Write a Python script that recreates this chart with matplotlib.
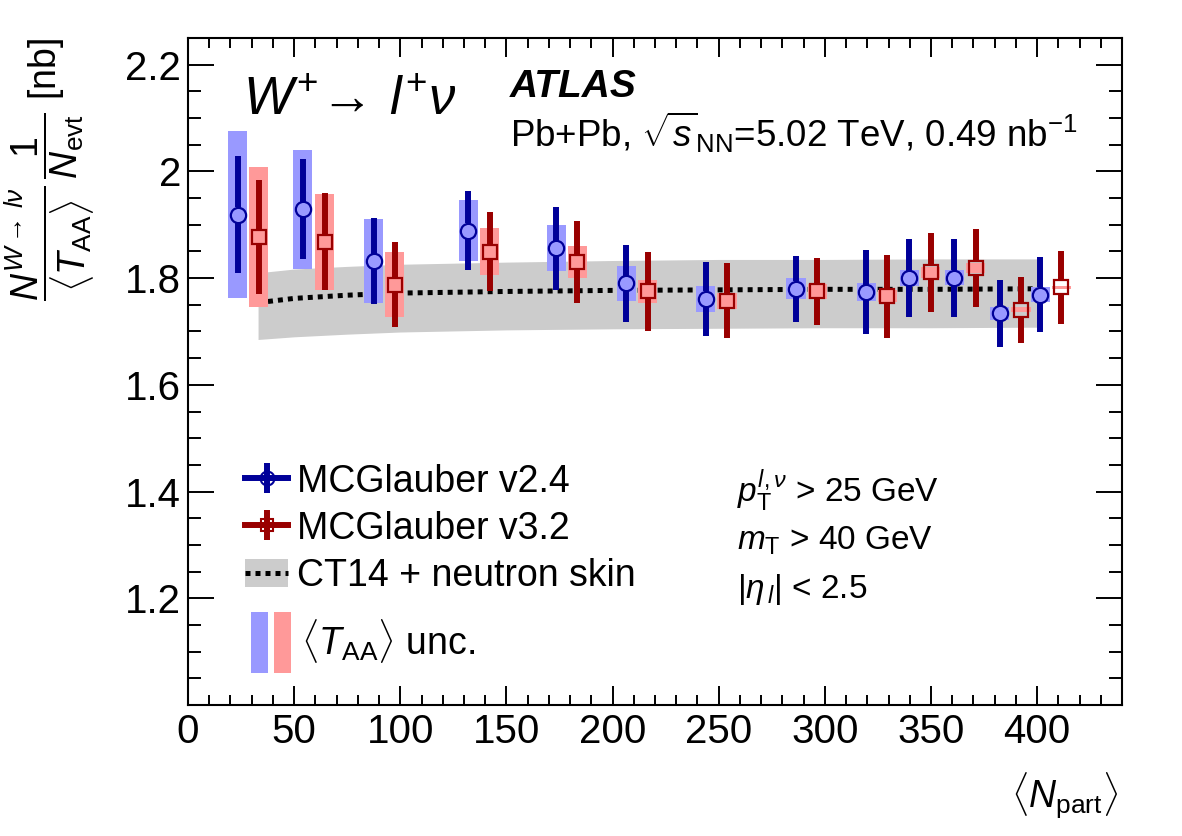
import matplotlib
matplotlib.use('Agg')
import matplotlib.pyplot as plt
import numpy as np
from matplotlib.lines import Line2D
from matplotlib.patches import Patch
from matplotlib.legend_handler import HandlerTuple
from matplotlib.ticker import MultipleLocator, FuncFormatter

plt.rcParams['font.family'] = ['Liberation Sans', 'DejaVu Sans']
plt.rcParams['mathtext.fontset'] = 'custom'
plt.rcParams['mathtext.rm'] = 'Liberation Sans'
plt.rcParams['mathtext.it'] = 'Liberation Sans:italic'
plt.rcParams['mathtext.bf'] = 'Liberation Sans:bold'

# MCGlauber v2.4
npart_v24 = np.array([23.4, 54.1, 87.5, 132.1, 173.5, 206.4, 243.8, 286.4, 319.5, 339.8, 360.9, 382.4, 401.4])
yield_v24 = np.array([1.919, 1.929, 1.832, 1.889, 1.856, 1.790, 1.761, 1.780, 1.774, 1.800, 1.801, 1.734, 1.769])
stat_v24 = np.array([0.110, 0.094, 0.080, 0.074, 0.078, 0.073, 0.070, 0.062, 0.079, 0.073, 0.073, 0.063, 0.070])
taa_v24 = np.array([0.156, 0.111, 0.079, 0.057, 0.043, 0.032, 0.024, 0.020, 0.016, 0.015, 0.014, 0.0125, 0.014])

# MCGlauber v3.2
npart_v32 = np.array([33.4, 64.5, 97.4, 142.1, 183.4, 216.5, 253.9, 296.5, 329.4, 349.9, 371.1, 392.4, 411.3])
yield_v32 = np.array([1.877, 1.868, 1.788, 1.849, 1.830, 1.775, 1.7575, 1.775, 1.766, 1.811, 1.819, 1.741, 1.7825])
stat_v32 = np.array([0.106, 0.091, 0.079, 0.074, 0.077, 0.074, 0.070, 0.062, 0.078, 0.074, 0.073, 0.062, 0.069])
taa_v32 = np.array([0.132, 0.090, 0.061, 0.044, 0.030, 0.022, 0.015, 0.014, 0.011, 0.0105, 0.009, 0.005, 0.0025])

# CT14 + neutron skin
pred_x = [33, 50, 75, 100, 150, 200, 250, 300, 350, 400]
pred_y = [1.754, 1.762, 1.768, 1.772, 1.775, 1.777, 1.778, 1.779, 1.779, 1.780]
pred_hi = [1.810, 1.817, 1.822, 1.826, 1.830, 1.833, 1.835, 1.835, 1.836, 1.836]
pred_lo = [1.685, 1.690, 1.695, 1.699, 1.703, 1.705, 1.706, 1.707, 1.707, 1.708]

blue = '#000099'
red = '#990000'
blue_box = '#9999ff'
red_box = '#ff9999'

fig = plt.figure(figsize=(11.82, 8.36), dpi=100)
ax = fig.add_axes([188 / 1182, 1 - 705 / 836, 934 / 1182, 667 / 836])

ax.fill_between(pred_x, pred_lo, pred_hi, color='#cccccc', lw=0, zorder=1)
ax.plot(pred_x, pred_y, color='black', lw=3.6, ls=(0, (1, 1)), zorder=2)

# error bars stop at the marker edge, like ROOT
gap = 0.014
for x, y, st, ta, c, cb, m, ms in [
        (npart_v24, yield_v24, stat_v24, taa_v24, blue, blue_box, 'o', 11),
        (npart_v32, yield_v32, stat_v32, taa_v32, red, red_box, 's', 10)]:
    ax.bar(x, 2 * ta, bottom=y - ta, width=9, color=cb, lw=0, zorder=3)
    ax.vlines(x, y + gap, y + st, color=c, lw=4.3, zorder=4)
    ax.vlines(x, y - st, y - gap, color=c, lw=4.3, zorder=4)
    ax.plot(x, y, ls='none', marker=m, ms=ms, mfc='none', mec=c, mew=1.6, zorder=5)

ax.set_xlim(0, 440)
ax.set_ylim(1.0, 2.25)
ax.xaxis.set_major_locator(MultipleLocator(50))
ax.xaxis.set_minor_locator(MultipleLocator(10))
ax.yaxis.set_major_locator(MultipleLocator(0.2))
ax.yaxis.set_minor_locator(MultipleLocator(0.05))
ax.xaxis.set_major_formatter(FuncFormatter(lambda v, p: '%g' % v if v <= 400 else ''))
ax.yaxis.set_major_formatter(FuncFormatter(lambda v, p: '%g' % round(v, 2) if v > 1.05 else ''))
ax.tick_params(which='both', direction='in', top=True, right=True, width=1.4, labelsize=29)
ax.tick_params(axis='y', which='major', length=19, pad=5)
ax.tick_params(axis='y', which='minor', length=9.5)
ax.tick_params(axis='x', which='major', length=14, pad=6)
ax.tick_params(axis='x', which='minor', length=7)
for s in ax.spines.values():
    s.set_linewidth(1.5)

# titles
fig.text(243 / 1182, 1 - 115 / 836, r'$W^{+}\!\rightarrow\, l^{+}\nu$', fontsize=38,
         ha='left', va='baseline')
fig.text(510 / 1182, 1 - 97 / 836, 'ATLAS', fontsize=28, fontweight='bold', style='italic',
         ha='left', va='baseline')
fig.text(510 / 1182, 1 - 147 / 836, r'Pb+Pb, $\sqrt{s}_{\rm NN}$=5.02 TeV, 0.49 nb$^{-1}$',
         fontsize=26.5, ha='left', va='baseline')

fig.text(737 / 1182, 1 - 502 / 836, r'$p_{\rm T}^{l,\nu}$ > 25 GeV', fontsize=24, ha='left', va='baseline')
fig.text(737 / 1182, 1 - 550 / 836, r'$m_{\rm T}$ > 40 GeV', fontsize=24, ha='left', va='baseline')
fig.text(737 / 1182, 1 - 598 / 836, r'$|\eta_{\,l}|$ < 2.5', fontsize=24, ha='left', va='baseline')

fig.text(50 / 1182, 1 - 38 / 836,
         r'$\dfrac{N^{W\rightarrow\, l\nu}}{\langle T_{\rm AA}\rangle}\,\dfrac{1}{N_{\rm evt}}$ [nb]',
         fontsize=27, rotation=90, ha='center', va='top')
fig.text(1118 / 1182, 1 - 808 / 836, r'$\langle N_{\rm part}\rangle$', fontsize=27,
         ha='right', va='baseline')

# legend
h_v24 = (Line2D([], [], color=blue, lw=4.3),
         Line2D([], [], color=blue, marker='|', ms=22, mew=4.3, ls='none'),
         Line2D([], [], color=blue, marker='o', ms=10, mfc='none', mew=1.5, ls='none'))
h_v32 = (Line2D([], [], color=red, lw=4.3),
         Line2D([], [], color=red, marker='|', ms=22, mew=4.3, ls='none'),
         Line2D([], [], color=red, marker='s', ms=9, mfc='none', mew=1.5, ls='none'))
h_pred = (Patch(color='#cccccc', lw=0), Line2D([], [], color='black', lw=3.6, ls=(0, (1, 1))))
leg = ax.legend([h_v24, h_v32, h_pred],
                ['MCGlauber v2.4', 'MCGlauber v3.2', 'CT14 + neutron skin'],
                handler_map={tuple: HandlerTuple(ndivide=1)},
                loc='upper left', bbox_to_anchor=(0.061, 0.362), frameon=False,
                fontsize=27, handlelength=1.15, handleheight=0.75, handletextpad=0.25,
                labelspacing=0.3, borderpad=0, borderaxespad=0)
ax.add_artist(leg)

h_taa = (Patch(color=blue_box, lw=0), Patch(color=red_box, lw=0))
ax.legend([h_taa], [r'$\langle T_{\rm AA}\rangle$ unc.'],
          handler_map={tuple: HandlerTuple(ndivide=None, pad=0.16)},
          loc='upper left', bbox_to_anchor=(0.0675, 0.139), frameon=False,
          fontsize=27, handlelength=1.07, handleheight=2.1, handletextpad=0.25,
          borderpad=0, borderaxespad=0)

fig.savefig('out.png', dpi=100)
